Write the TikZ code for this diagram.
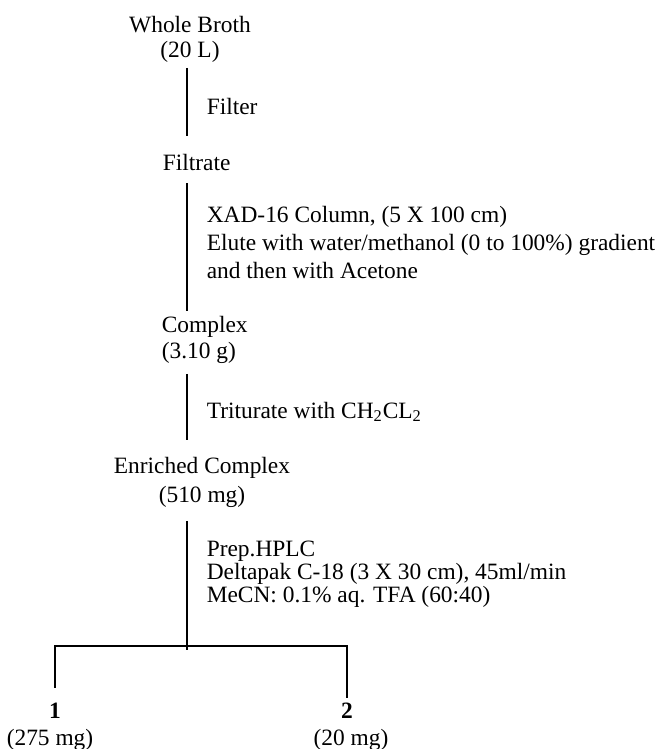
\documentclass[tikz,border=0pt]{standalone}
\usepackage{fontspec}
\setmainfont{Liberation Serif}
\usetikzlibrary{positioning,calc}

\begin{document}
\begin{tikzpicture}[x=.5pt,y=-.5pt,line width=.8pt,
  every node/.style={inner sep=2pt,font=\fontsize{11.7}{13}\selectfont},
  stage/.style={anchor=base west,align=left},
  steplabel/.style={anchor=base west,align=left},
  product/.style={anchor=base,font=\fontsize{11.7}{13}\selectfont\bfseries}]
\useasboundingbox (0,0) rectangle (672,749);
\coordinate (spine) at (187,0);
% stages (base = last line)
\node[anchor=base,align=center,font=\fontsize{11.7}{12.5}\selectfont] (broth) at (190,58) {Whole Broth\\(20 L)};
\node[steplabel] (filter) at (202,115) {Filter};
\node[stage] (filtrate) at (158,170) {Filtrate};
\node[steplabel,font=\fontsize{11.7}{14}\selectfont] (xad) at (202,278) {XAD-16 Column, (5 X 100 cm)\\Elute with water/methanol (0 to 100\%) gradient\\and then with Acetone};
\node[stage] (complex) at (157,358) {Complex\\(3.10 g)};
\node[steplabel] (triturate) at (202,418) {Triturate with CH\textsubscript{2}CL\textsubscript{2}};
\node[anchor=base,align=center,font=\fontsize{11.7}{14.5}\selectfont] (enriched) at (202,502) {Enriched Complex\\(510 mg)};
\node[steplabel,font=\fontsize{11.7}{11.5}\selectfont] (hplc) at (202,602) {Prep.HPLC\\Deltapak C-18 (3 X 30 cm), 45ml/min\\MeCN: 0.1\% aq. TFA (60:40)};
% products
\node[product] (p1) at (55,718) {1};
\node[anchor=base] (p1amt) at (50,745) {(275 mg)};
\node[product] (p2) at (347,718) {2};
\node[anchor=base] (p2amt) at (351,745) {(20 mg)};
% connectors
\coordinate (split) at (187,646);
\draw[shorten >=6.5pt] (broth.south -| spine) -- (filtrate.north -| spine);
\draw[shorten <=4pt] (filtrate.south -| spine) -- (complex.north -| spine);
\draw[shorten <=3pt,shorten >=6pt] (complex.south -| spine) -- (enriched.north -| spine);
\draw[shorten <=4.5pt] (enriched.south -| spine) -- ([yshift=-2pt]split);
\draw[shorten <=5pt] (p1.north) |- (split) -| (p2.north);
\end{tikzpicture}
\end{document}
